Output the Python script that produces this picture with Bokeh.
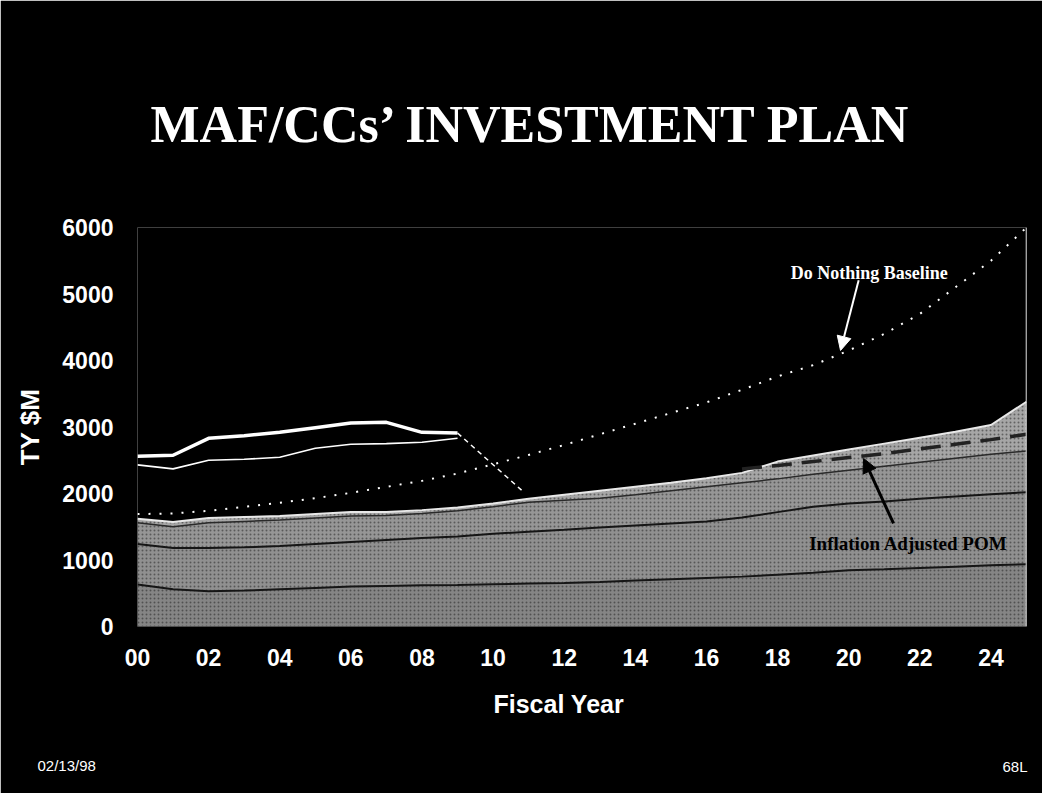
import numpy as np
from bokeh.plotting import figure
from bokeh.models import Range1d, Label, Arrow, NormalHead, FixedTicker, Span, Title
from bokeh.embed import file_html
from bokeh.resources import INLINE

# ---------------- data (TY $M) ----------------
years = list(range(0, 26))
tick_years = [0, 2, 4, 6, 8, 10, 12, 14, 16, 18, 20, 22, 24]
tick_labels = ["00", "02", "04", "06", "08", "10", "12", "14", "16", "18", "20", "22", "24"]
y_ticks = [0, 1000, 2000, 3000, 4000, 5000, 6000]

# stacked components of the investment plan (bottom -> top)
band_1 = [630, 560, 530, 540, 560, 580, 600, 610, 620, 625, 635, 645, 655, 670, 690, 710, 730, 750, 780, 810, 845, 860, 880, 900, 920, 935]
band_2 = [610, 620, 650, 650, 650, 660, 670, 690, 710, 730, 760, 780, 800, 820, 830, 840, 850, 890, 940, 990, 1005, 1020, 1040, 1055, 1070, 1085]
band_3 = [320, 320, 380, 390, 390, 390, 390, 370, 370, 385, 405, 445, 445, 440, 460, 490, 520, 520, 500, 490, 500, 530, 550, 575, 600, 620]
band_4 = [60, 70, 70, 65, 60, 60, 60, 50, 50, 50, 50, 50, 80, 110, 120, 120, 130, 150, 260, 280, 310, 340, 370, 400, 440, 740]

# do nothing baseline (dotted)
baseline = [1690, 1700, 1740, 1800, 1860, 1930, 2010, 2100, 2190, 2300, 2440, 2580, 2730, 2890, 3050, 3210, 3370, 3560, 3760, 3930, 4150, 4400, 4700, 5100, 5500, 6000]

# early requirement lines (white)
req_years = [0, 1, 2, 3, 4, 5, 6, 7, 8, 9]
req_upper = [2560, 2575, 2830, 2870, 2920, 2990, 3060, 3070, 2920, 2910]
req_lower = [2430, 2370, 2500, 2515, 2545, 2680, 2740, 2750, 2770, 2830]
drop_years = [9, 10.8]
drop_vals = [2910, 2050]

# inflation adjusted POM (dashed)
pom_years = [17, 18, 19, 20, 21, 22, 23, 24, 25]
pom_vals = [2370, 2420, 2480, 2540, 2600, 2670, 2740, 2810, 2890]

# ---------------- figure ----------------
p = figure(width=1042, height=793, x_range=Range1d(0, 25), y_range=Range1d(0, 6000),
           output_backend="svg", toolbar_location=None,
           background_fill_color="black", border_fill_color="black",
           min_border_left=137, min_border_right=16, min_border_top=227, min_border_bottom=167)
p.outline_line_color = None
p.grid.grid_line_color = None

for ax in (p.xaxis, p.yaxis):
    ax.axis_line_color = None
    ax.major_tick_line_color = None
    ax.minor_tick_line_color = None
    ax.major_tick_in = 0
    ax.major_tick_out = 0
    ax.major_label_text_color = "white"
    ax.major_label_text_font = "Liberation Sans"
    ax.major_label_text_font_style = "bold"
    ax.major_label_text_font_size = "23px"

p.xaxis.ticker = FixedTicker(ticks=tick_years)
p.xaxis.major_label_overrides = {t: l for t, l in zip(tick_years, tick_labels)}
p.xaxis.major_label_standoff = 22
p.yaxis.ticker = FixedTicker(ticks=y_ticks)
p.yaxis.major_label_standoff = 24

p.yaxis.axis_label = "TY $M"
p.yaxis.axis_label_text_color = "white"
p.yaxis.axis_label_text_font = "Liberation Sans"
p.yaxis.axis_label_text_font_style = "bold"
p.yaxis.axis_label_text_font_size = "26px"
p.yaxis.axis_label_standoff = 14

# stacked area
x = np.array(years, dtype=float)
bands = [np.array(band_1), np.array(band_2), np.array(band_3), np.array(band_4)]
fills = ["#858585", "#909090", "#969696", "#a6a6a6"]
lower = np.zeros(len(years))
tops = []
for b, c in zip(bands, fills):
    upper = lower + b
    p.varea(x=x, y1=lower, y2=upper, fill_color=c,
            hatch_pattern="dot", hatch_color="#1e1e1e", hatch_alpha=0.5, hatch_scale=4, hatch_weight=1)
    tops.append(upper)
    lower = upper

# band boundaries
p.line(x, tops[0], line_color="#151515", line_width=2)
p.line(x, tops[1], line_color="#151515", line_width=2)
p.line(x, tops[2], line_color="#2a2a2a", line_width=1.5)
p.line(x, tops[3], line_color="#e8e8e8", line_width=2)

# inflation adjusted POM
p.line(pom_years, pom_vals, line_color="#222222", line_width=3.5, line_dash="20 10")

# do nothing baseline
p.line(x, baseline, line_color="white", line_width=2, line_dash="2 9")

# early requirement lines
p.line(req_years, req_upper, line_color="white", line_width=3.5)
p.line(req_years, req_lower, line_color="white", line_width=1.6)
p.line(drop_years, drop_vals, line_color="white", line_width=1.5, line_dash="5 4")

# right border line
p.add_layout(Span(location=25, dimension="height", line_color="white", line_width=1.5))


def set_standoff(t, v):
    try:
        t.standoff = v
    except Exception:
        pass


# ---------------- titles ----------------
title = Title(text="MAF/CCs\u2019 INVESTMENT PLAN", align="left", offset=13, text_color="white",
              text_font="Liberation Serif", text_font_style="bold", text_font_size="52px")
set_standoff(title, 150)
p.add_layout(title, "above")

xlab = Title(text="Fiscal Year", align="left", offset=356, text_color="white",
             text_font="Liberation Sans", text_font_style="bold", text_font_size="25px")
set_standoff(xlab, 39)
p.add_layout(xlab, "below")

foot_l = Title(text="02/13/98", align="left", offset=-100, text_color="white",
               text_font="Liberation Sans", text_font_style="normal", text_font_size="15px")
set_standoff(foot_l, 34)
p.add_layout(foot_l, "below")

foot_r = Title(text="68L", align="right", offset=-1, vertical_align="top", text_color="white",
               text_font="Liberation Sans", text_font_style="normal", text_font_size="15px")
set_standoff(foot_r, -65)
p.add_layout(foot_r, "below")

# annotations
p.add_layout(Label(x=20.58, y=5309, text="Do Nothing Baseline", text_color="white",
                   text_font="Liberation Serif", text_font_style="bold", text_font_size="18px",
                   text_align="center", text_baseline="middle"))
p.add_layout(Arrow(x_start=20.28, y_start=5205, x_end=19.77, y_end=4151, line_color="white", line_width=2,
                   end=NormalHead(size=14, fill_color="white", line_color="white")))
p.add_layout(Label(x=21.68, y=1248, text="Inflation Adjusted POM", text_color="black",
                   text_font="Liberation Serif", text_font_style="bold", text_font_size="19px",
                   text_align="center", text_baseline="middle"))
p.add_layout(Arrow(x_start=21.26, y_start=1549, x_end=20.42, y_end=2527, line_color="black", line_width=3,
                   end=NormalHead(size=14, fill_color="black", line_color="black")))

open("out.html", "w").write(file_html(p, INLINE))
